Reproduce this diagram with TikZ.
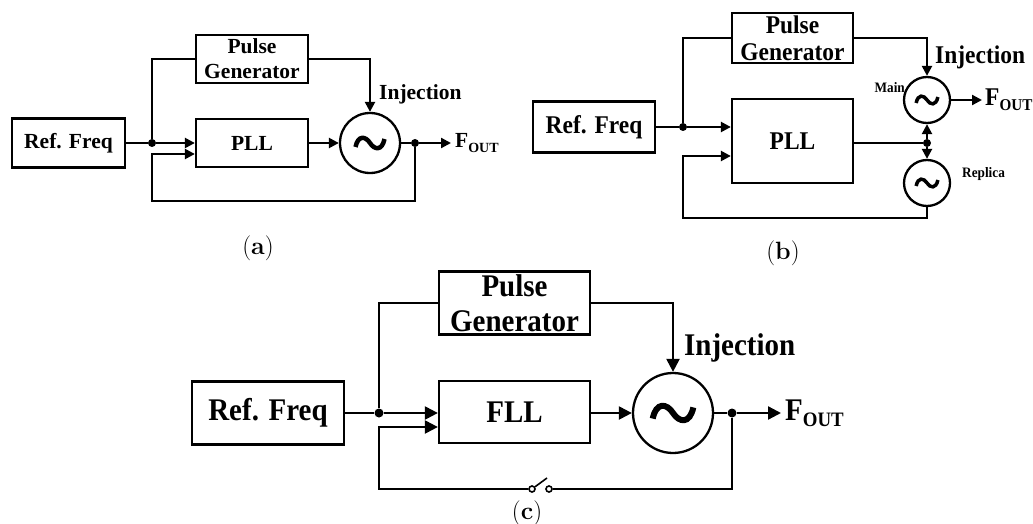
\documentclass[tikz,border=0pt]{standalone}
\usepackage{fontspec}
\usepackage{graphicx}
\newfontfamily\blockfont{Liberation Serif}
\newfontfamily\narrowserif[FakeStretch=0.92]{Liberation Serif}
\usetikzlibrary{arrows.meta}

\newcommand\fontA{\blockfont\bfseries\fontsize{21.5}{25}\selectfont}
\newcommand\fontB{\narrowserif\bfseries\fontsize{25.5}{27}\selectfont}
\newcommand\fontBsmall{\narrowserif\bfseries\fontsize{14.4}{16}\selectfont}
\newcommand\fontC{\narrowserif\bfseries\fontsize{31.5}{35}\selectfont}
\newcommand\fontCap{\fontsize{25}{26}\selectfont}
\newcommand\fout[1]{F\raisebox{-0.2em}{\fontsize{#1}{#1}\selectfont OUT}}

% oscillator symbol
\tikzset{wave/.pic={\draw (-14.5,4) .. controls (-12,-8) and (-4.5,-7) .. (0,0)
  .. controls (4.5,7) and (12,8) .. (14.5,-4);}}

\begin{document}
\begin{tikzpicture}
[x=1pt,y=-1pt,
  block/.style={draw,line width=2.3pt,inner sep=0pt,align=center},
  osc/.style={draw,circle,line width=2.3pt,inner sep=0pt},
  dot/.style={circle,fill,inner sep=0pt,minimum size=8pt},
  lbl/.style={inner sep=0pt},
  wire/.style={line width=2.3pt},
  sig/.style={wire,-{Triangle[length=#1,width=#1]}},
  sig/.default=10pt]
\useasboundingbox (0,0) rectangle (1033,524);

% (a) PLL with pulse injection
\node[block,minimum width=113pt,minimum height=49pt,font=\fontA] (refA) at (68.5,143) {Ref. Freq};
\node[block,minimum width=112pt,minimum height=48pt,font=\fontA] (pulseA) at (252,59) {Pulse\\Generator};
\node[block,minimum width=112pt,minimum height=48pt,font=\fontA] (pllA) at (252,143) {PLL};
\node[osc,minimum size=60pt] (vcoA) at (370,143) {};
\pic[line width=4.5pt] at (vcoA) {wave};
\node[dot] (splitA) at (152,143) {};
\node[dot] (tapA) at (415,143) {};
\node[lbl,anchor=west,font=\fontA] (injA) at (379,94) {Injection};
\node[lbl,anchor=west,font=\fontA] (outA) at (455,143) {\fout{14}};
\coordinate (loopA) at (152,201);
\draw[wire] (refA.east) -- (splitA);
\draw[sig] (splitA) -- (pllA.west);
\draw[wire] (splitA) |- (pulseA.west);
\draw[sig] (pulseA.east) -| (vcoA.north);
\draw[sig] (pllA.east) -- (vcoA.west);
\draw[wire] (vcoA.east) -- (tapA);
\draw[sig] (tapA) -- ([xshift=-4pt]outA.west);
\draw[sig] (tapA) |- (loopA) |- ([yshift=-11pt]pllA.west);
\node[font=\fontCap] (capA) at (258,248) {(\textbf{a})};

% (b) main and replica oscillators
\node[block,minimum width=122pt,minimum height=51pt,font=\fontB] (refB) at (594,127) {Ref. Freq};
\node[block,minimum width=121pt,minimum height=50pt,font=\fontB] (pulseB) at (792.5,38) {Pulse\\Generator};
\node[block,minimum width=121pt,minimum height=84pt,font=\fontB] (pllB) at (792.5,141) {PLL};
\node[osc,minimum size=46pt] (mainB) at (927,100) {};
\node[osc,minimum size=46pt] (replB) at (927,183) {};
\pic[scale=0.75,line width=3.5pt] at (mainB) {wave};
\pic[scale=0.75,line width=3.5pt] at (replB) {wave};
\node[dot] (splitB) at (683,127) {};
\node[dot] (tapB) at (927,143) {};
\node[lbl,anchor=west,font=\fontB] (injB) at (935,57) {Injection};
\node[lbl,anchor=east,font=\fontBsmall] (mainLbl) at (905,88) {Main};
\node[lbl,anchor=west,font=\fontBsmall] (replLbl) at (962,174) {Replica};
\node[lbl,anchor=west,font=\fontB] (outB) at (985,100) {\fout{16.5}};
\coordinate (loopB) at (683,218);
\draw[wire] (refB.east) -- (splitB);
\draw[sig] (splitB) -- (splitB -| pllB.west);
\draw[wire] (splitB) |- (pulseB.west);
\draw[sig] (pulseB.east) -| (mainB.north);
\draw[sig] (mainB.east) -- ([xshift=-3pt]outB.west);
\draw[wire] (tapB -| pllB.east) -- (tapB);
\draw[sig] (tapB) -- (mainB.south);
\draw[sig] (tapB) -- (replB.north);
\draw[sig] (replB.south) |- (loopB) |- ([yshift=-15pt]pllB.west);
\node[font=\fontCap] (capB) at (783,253) {(\textbf{b})};

% (c) FLL with switched loop
\node[block,minimum width=152pt,minimum height=63pt,font=\fontC] (refC) at (268,413) {Ref. Freq};
\node[block,minimum width=151pt,minimum height=63pt,font=\fontC] (pulseC) at (514.5,303) {Pulse\\Generator};
\node[block,minimum width=151pt,minimum height=62pt,font=\fontC] (fllC) at (514.5,412) {FLL};
\node[osc,minimum size=80pt] (vcoC) at (673,413) {};
\pic[scale=1.4,line width=6pt] at (vcoC) {wave};
\node[dot,minimum size=9pt] (splitC) at (379,413) {};
\node[dot,minimum size=9pt] (tapC) at (732,413) {};
\node[lbl,anchor=west,font=\fontC] (injC) at (684,348) {Injection};
\node[lbl,anchor=west,font=\fontC] (outC) at (785,413) {\fout{20.5}};
\node[osc,line width=1.6pt,minimum size=6pt,fill=white] (swL) at (532,489) {};
\node[osc,line width=1.6pt,minimum size=6pt,fill=white] (swR) at (549,489) {};
\coordinate (swTip) at (547,478);
\coordinate (loopC) at (379,489);
\draw[wire] (refC.east) -- (splitC);
\draw[sig=13pt] (splitC) -- (fllC.west |- splitC);
\draw[wire] (splitC) |- (pulseC.west);
\draw[sig=13pt] (pulseC.east) -| (vcoC.north);
\draw[sig=13pt] (fllC.east |- vcoC) -- (vcoC.west);
\draw[wire] (vcoC.east) -- (tapC);
\draw[sig=13pt] (tapC) -- ([xshift=-4pt]outC.west);
\draw[wire] (tapC) |- (swR);
\draw[wire,line width=1.6pt] (swL) -- (swTip);
\draw[sig=13pt] (swL) -- (loopC) |- ([yshift=-15pt]fllC.west);
\node[font=\fontCap] (capC) at (527,513) {(\textbf{c})};
\end{tikzpicture}
\end{document}
